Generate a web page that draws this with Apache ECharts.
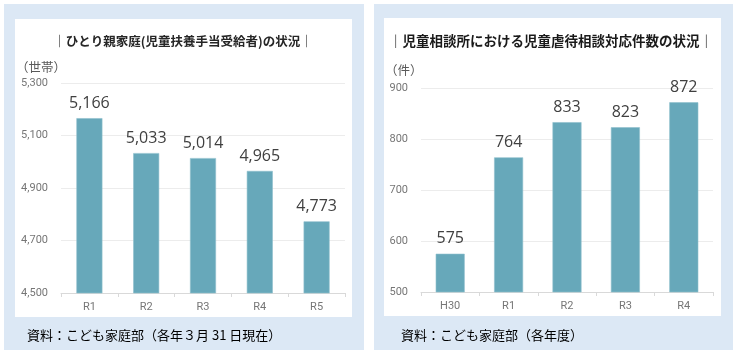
<!DOCTYPE html>
<html>
<head>
<meta charset="utf-8">
<script src="https://cdn.jsdelivr.net/npm/echarts@6/dist/echarts.min.js"></script>
<style>
html,body{margin:0;padding:0;background:#fff;}
#main{width:738px;height:354px;}
</style>
</head>
<body>
<div id="main"></div>
<script>
// ひとり親家庭
var leftCats = ['R1', 'R2', 'R3', 'R4', 'R5'];
var leftVals = [5166, 5033, 5014, 4965, 4773];
var leftTicks = [4500, 4700, 4900, 5100, 5300];
// 児童虐待相談対応件数
var rightCats = ['H30', 'R1', 'R2', 'R3', 'R4'];
var rightVals = [575, 764, 833, 823, 872];
var rightTicks = [500, 600, 700, 800, 900];

var jp = '"Noto Sans CJK JP", sans-serif';
var barColor = '#67a8ba';

function fmt(v){ return v.toLocaleString('en-US'); }

function xAxisOpt(idx, cats){
	return {
		type: 'category',
		gridIndex: idx,
		data: cats,
		axisLine: {lineStyle: {color: '#d9d9d9'}},
		axisTick: {show: true, length: 4, lineStyle: {color: '#d9d9d9'}},
		axisLabel: {color: '#767676', fontSize: 11, margin: 9, fontFamily: 'Roboto, sans-serif'}
	};
}
function yAxisOpt(idx, ticks){
	return {
		type: 'value',
		gridIndex: idx,
		min: ticks[0],
		max: ticks[ticks.length - 1],
		interval: ticks[1] - ticks[0],
		axisLine: {show: false},
		axisTick: {show: false},
		splitLine: {lineStyle: {color: '#ececec'}},
		axisLabel: {color: '#767676', fontSize: 11, margin: 13, fontFamily: 'Roboto, sans-serif', formatter: fmt}
	};
}
function barSeries(idx, vals, width){
	return {
		type: 'bar',
		xAxisIndex: idx,
		yAxisIndex: idx,
		data: vals,
		barWidth: width,
		itemStyle: {color: barColor, borderColor: '#8fc0cd', borderWidth: 0.6},
		label: {
			show: true,
			position: 'top',
			distance: 7,
			color: '#404040',
			fontSize: 16,
			fontFamily: '"Open Sans", sans-serif',
			formatter: function(p){ return fmt(p.value); }
		}
	};
}

var chart = echarts.init(document.getElementById('main'));
var option = {
	animation: false,
	graphic: [
		{type: 'rect', z: -10, shape: {x: 4, y: 4, width: 360, height: 346}, style: {fill: '#dce8f5'}},
		{type: 'rect', z: -9, shape: {x: 15, y: 19, width: 337, height: 298}, style: {fill: '#fff'}},
		{type: 'rect', z: -10, shape: {x: 374, y: 4, width: 359, height: 346}, style: {fill: '#dce8f5'}},
		{type: 'rect', z: -9, shape: {x: 384, y: 18, width: 337, height: 298}, style: {fill: '#fff'}},
		{type: 'text', x: 183, y: 41, style: {text: '｜ひとり親家庭(児童扶養手当受給者)の状況｜', font: 'bold 12.5px ' + jp, fill: '#262626', textAlign: 'center', textVerticalAlign: 'middle'}},
		{type: 'text', x: 551, y: 41, style: {text: '｜児童相談所における児童虐待相談対応件数の状況｜', font: 'bold 13.5px ' + jp, fill: '#1a1a1a', textAlign: 'center', textVerticalAlign: 'middle'}},
		{type: 'text', x: 16, y: 67, style: {text: '（世帯）', font: '12.5px ' + jp, fill: '#595959', textVerticalAlign: 'middle'}},
		{type: 'text', x: 385, y: 70, style: {text: '（件）', font: '12.5px ' + jp, fill: '#595959', textVerticalAlign: 'middle'}},
		{type: 'text', x: 27, y: 335, style: {text: '資料：こども家庭部（各年３月 31 日現在）', font: '13px ' + jp, fill: '#000', textVerticalAlign: 'middle'}},
		{type: 'text', x: 401, y: 335, style: {text: '資料：こども家庭部（各年度）', font: '13px ' + jp, fill: '#000', textVerticalAlign: 'middle'}}
	],
	grid: [
		{left: 61, top: 83, width: 284, height: 210},
		{left: 421, top: 88, width: 292, height: 204}
	],
	xAxis: [xAxisOpt(0, leftCats), xAxisOpt(1, rightCats)],
	yAxis: [yAxisOpt(0, leftTicks), yAxisOpt(1, rightTicks)],
	series: [barSeries(0, leftVals, 26), barSeries(1, rightVals, 29)]
};
chart.setOption(option);
</script>
</body>
</html>
